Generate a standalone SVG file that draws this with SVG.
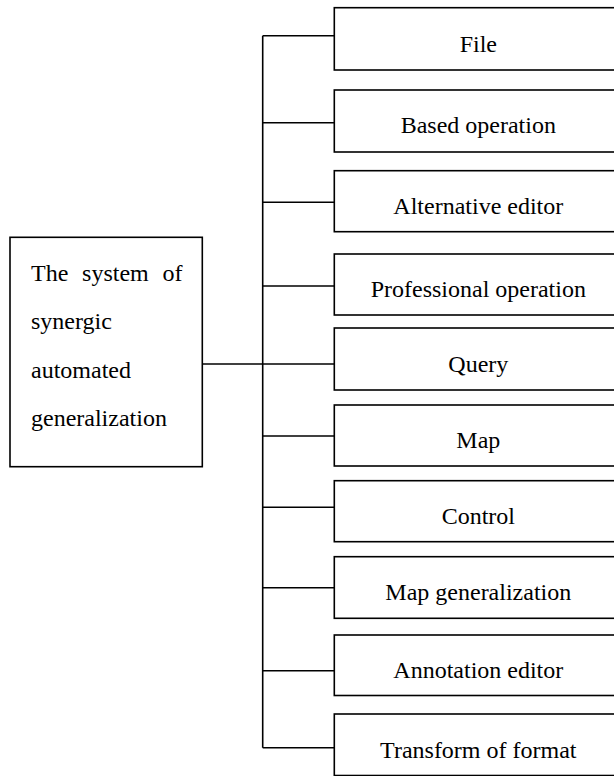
<svg xmlns="http://www.w3.org/2000/svg" width="614" height="776" viewBox="0 0 614 776">
<style>
.box{fill:#fff;stroke:#000;stroke-width:1.6}
.ln{stroke:#000;stroke-width:1.6;fill:none}
text{font-family:"Liberation Serif","Times New Roman",serif;font-size:24px;fill:#000}
.c{text-anchor:middle}
</style>
<rect width="614" height="776" fill="#fff"/>
<g id="connectors">
<line class="ln" x1="262.7" y1="35.7" x2="262.7" y2="747.7"/>
<line class="ln" x1="202.3" y1="364" x2="334.3" y2="364"/>
<line class="ln" x1="262.7" y1="35.7" x2="334.3" y2="35.7"/>
<line class="ln" x1="262.7" y1="122.7" x2="334.3" y2="122.7"/>
<line class="ln" x1="262.7" y1="202.3" x2="334.3" y2="202.3"/>
<line class="ln" x1="262.7" y1="286" x2="334.3" y2="286"/>
<line class="ln" x1="262.7" y1="436" x2="334.3" y2="436"/>
<line class="ln" x1="262.7" y1="507.3" x2="334.3" y2="507.3"/>
<line class="ln" x1="262.7" y1="587.7" x2="334.3" y2="587.7"/>
<line class="ln" x1="262.7" y1="670.7" x2="334.3" y2="670.7"/>
<line class="ln" x1="262.7" y1="747.7" x2="334.3" y2="747.7"/>
</g>
<g id="root">
<rect class="box" x="10" y="237.3" width="192.3" height="229.4"/>
<text x="31" y="280.5" word-spacing="7.8">The system of</text>
<text x="31" y="329">synergic</text>
<text x="31" y="377.5">automated</text>
<text x="31" y="426">generalization</text>
</g>
<g id="file"><rect class="box" x="334.3" y="7.7" width="300" height="62.3"/><text class="c" x="478.3" y="51.5">File</text></g>
<g id="based-operation"><rect class="box" x="334.3" y="90" width="300" height="62"/><text class="c" x="478.3" y="133.3">Based operation</text></g>
<g id="alternative-editor"><rect class="box" x="334.3" y="170.7" width="300" height="61"/><text class="c" x="478.3" y="214">Alternative editor</text></g>
<g id="professional-operation"><rect class="box" x="334.3" y="254" width="300" height="61"/><text class="c" x="478.3" y="297">Professional operation</text></g>
<g id="query"><rect class="box" x="334.3" y="328" width="300" height="62"/><text class="c" x="478.3" y="371.5">Query</text></g>
<g id="map"><rect class="box" x="334.3" y="405" width="300" height="61"/><text class="c" x="478.3" y="448.3">Map</text></g>
<g id="control"><rect class="box" x="334.3" y="480.7" width="300" height="61"/><text class="c" x="478.3" y="524">Control</text></g>
<g id="map-generalization"><rect class="box" x="334.3" y="556.7" width="300" height="61.6"/><text class="c" x="478.3" y="599.5">Map generalization</text></g>
<g id="annotation-editor"><rect class="box" x="334.3" y="635" width="300" height="60.5"/><text class="c" x="478.3" y="678.3">Annotation editor</text></g>
<g id="transform-of-format"><rect class="box" x="334.3" y="714" width="300" height="61.5"/><text class="c" x="478.3" y="757.7">Transform of format</text></g>
</svg>
